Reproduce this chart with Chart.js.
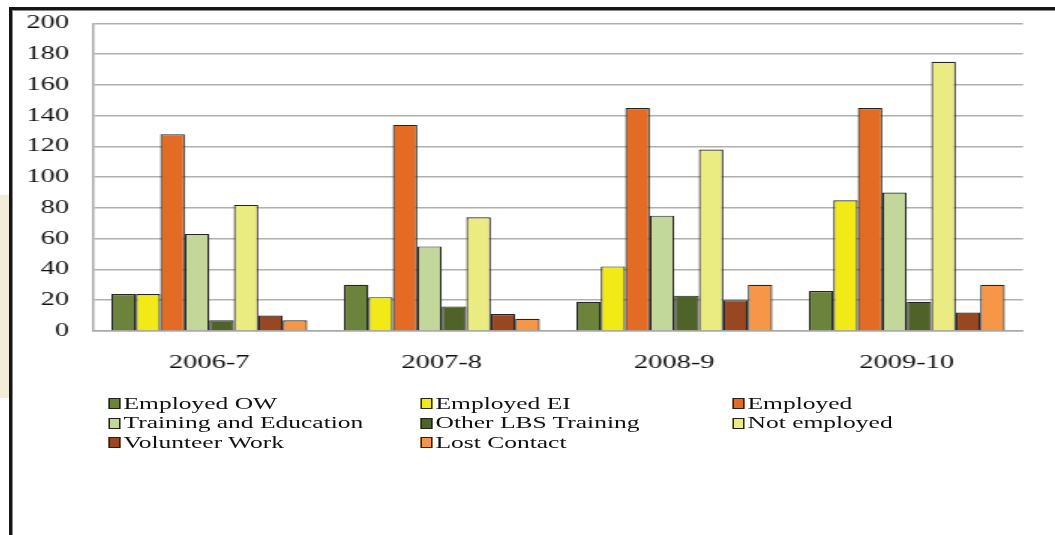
<!DOCTYPE html>
<html>
<head>
<meta charset="utf-8">
<script src="https://cdn.jsdelivr.net/npm/chart.js@4"></script>
<style>
  html, body { margin: 0; padding: 0; background: #fff; }
  body { width: 1055px; height: 535px; position: relative; overflow: hidden; font-family: 'Liberation Serif', 'DejaVu Serif', serif; }
  #side { position: absolute; left: 0; top: 195px; width: 9px; height: 203px; background: #f3ecd9; }
  #frame { position: absolute; left: 9px; top: 7px; right: -10px; bottom: -10px;
           border-top: 3px solid #151515; border-left: 3px solid #151515;
           box-shadow: inset 1px 1px 0 #8a8a8a; }
  /* the whole slide graphic is drawn narrow and widened sideways */
  #wrap { position: absolute; left: 14px; top: -4px; width: 694px; height: 440px;
          transform: scaleX(1.5); transform-origin: 0 0; }
  #chart { position: absolute; left: 0; top: 0; }
  #legend { position: absolute; left: 63px; top: 398px; display: grid;
            grid-template-columns: 208px 208px 208px; grid-auto-rows: 19.5px; }
  .item { display: flex; align-items: center; font-size: 17px; color: #111; white-space: nowrap; }
  .box { width: 6px; height: 9px; border: 1px solid #222; margin-right: 2px; flex: none; }
</style>
</head>
<body>
<div id="side"></div>
<div id="frame"></div>
<div id="wrap">
  <canvas id="chart" width="694" height="394"></canvas>
  <div id="legend"></div>
</div>
<script>
const years = ['2006-7', '2007-8', '2008-9', '2009-10'];

const employedOW        = [24, 30, 19, 26];
const employedEI        = [24, 22, 42, 85];
const employed          = [128, 134, 145, 145];
const trainingEducation = [63, 55, 75, 90];
const otherLBS          = [7, 16, 23, 19];
const notEmployed       = [82, 74, 118, 175];
const volunteerWork     = [10, 11, 20, 12];
const lostContact       = [7, 8, 30, 30];

const yMin = 0, yMax = 200, yStep = 20;

const seriesNames  = ['Employed OW', 'Employed EI', 'Employed', 'Training and Education',
                      'Other LBS Training', 'Not employed', 'Volunteer Work', 'Lost Contact'];
const seriesData   = [employedOW, employedEI, employed, trainingEducation,
                      otherLBS, notEmployed, volunteerWork, lostContact];
const seriesColors = ['#6b833a', '#f1ea17', '#e46b23', '#c4d79b',
                      '#4f6228', '#eaeb80', '#984721', '#f79646'];

const serif = "'Liberation Serif', 'DejaVu Serif', serif";

const chart = new Chart(document.getElementById('chart'), {
  type: 'bar',
  data: {
    labels: years,
    datasets: seriesNames.map((name, i) => ({
      label: name,
      data: seriesData[i],
      backgroundColor: seriesColors[i],
      borderColor: '#262626',
      borderWidth: 1.2,
      categoryPercentage: 0.843,
      barPercentage: 1
    }))
  },
  options: {
    responsive: false,
    animation: false,
    layout: { padding: { top: 0, right: 21.3, bottom: 0, left: 0 } },
    plugins: {
      legend: { display: false },
      tooltip: { enabled: false }
    },
    scales: {
      x: {
        grid: { display: false, drawTicks: false },
        border: { color: '#a8a8a8', width: 1.5 },
        ticks: { color: '#111', font: { family: serif, size: 19 }, padding: 21, maxRotation: 0 },
        afterFit: s => { s.height = 59; }
      },
      y: {
        min: yMin,
        max: yMax,
        grid: { color: '#b0b0b0', lineWidth: 1.6, drawTicks: false },
        border: { color: '#a8a8a8', width: 1.5 },
        ticks: { stepSize: yStep, color: '#111', font: { family: serif, size: 19 }, padding: 16 },
        afterFit: s => { s.width = 52.7; }
      }
    }
  }
});

// legend in three columns
const legendEl = document.getElementById('legend');
legendEl.innerHTML = chart.data.datasets.map(ds => `
  <div class="item"><span class="box" style="background:${ds.backgroundColor}"></span>${ds.label}</div>
`).join('');
</script>
</body>
</html>
